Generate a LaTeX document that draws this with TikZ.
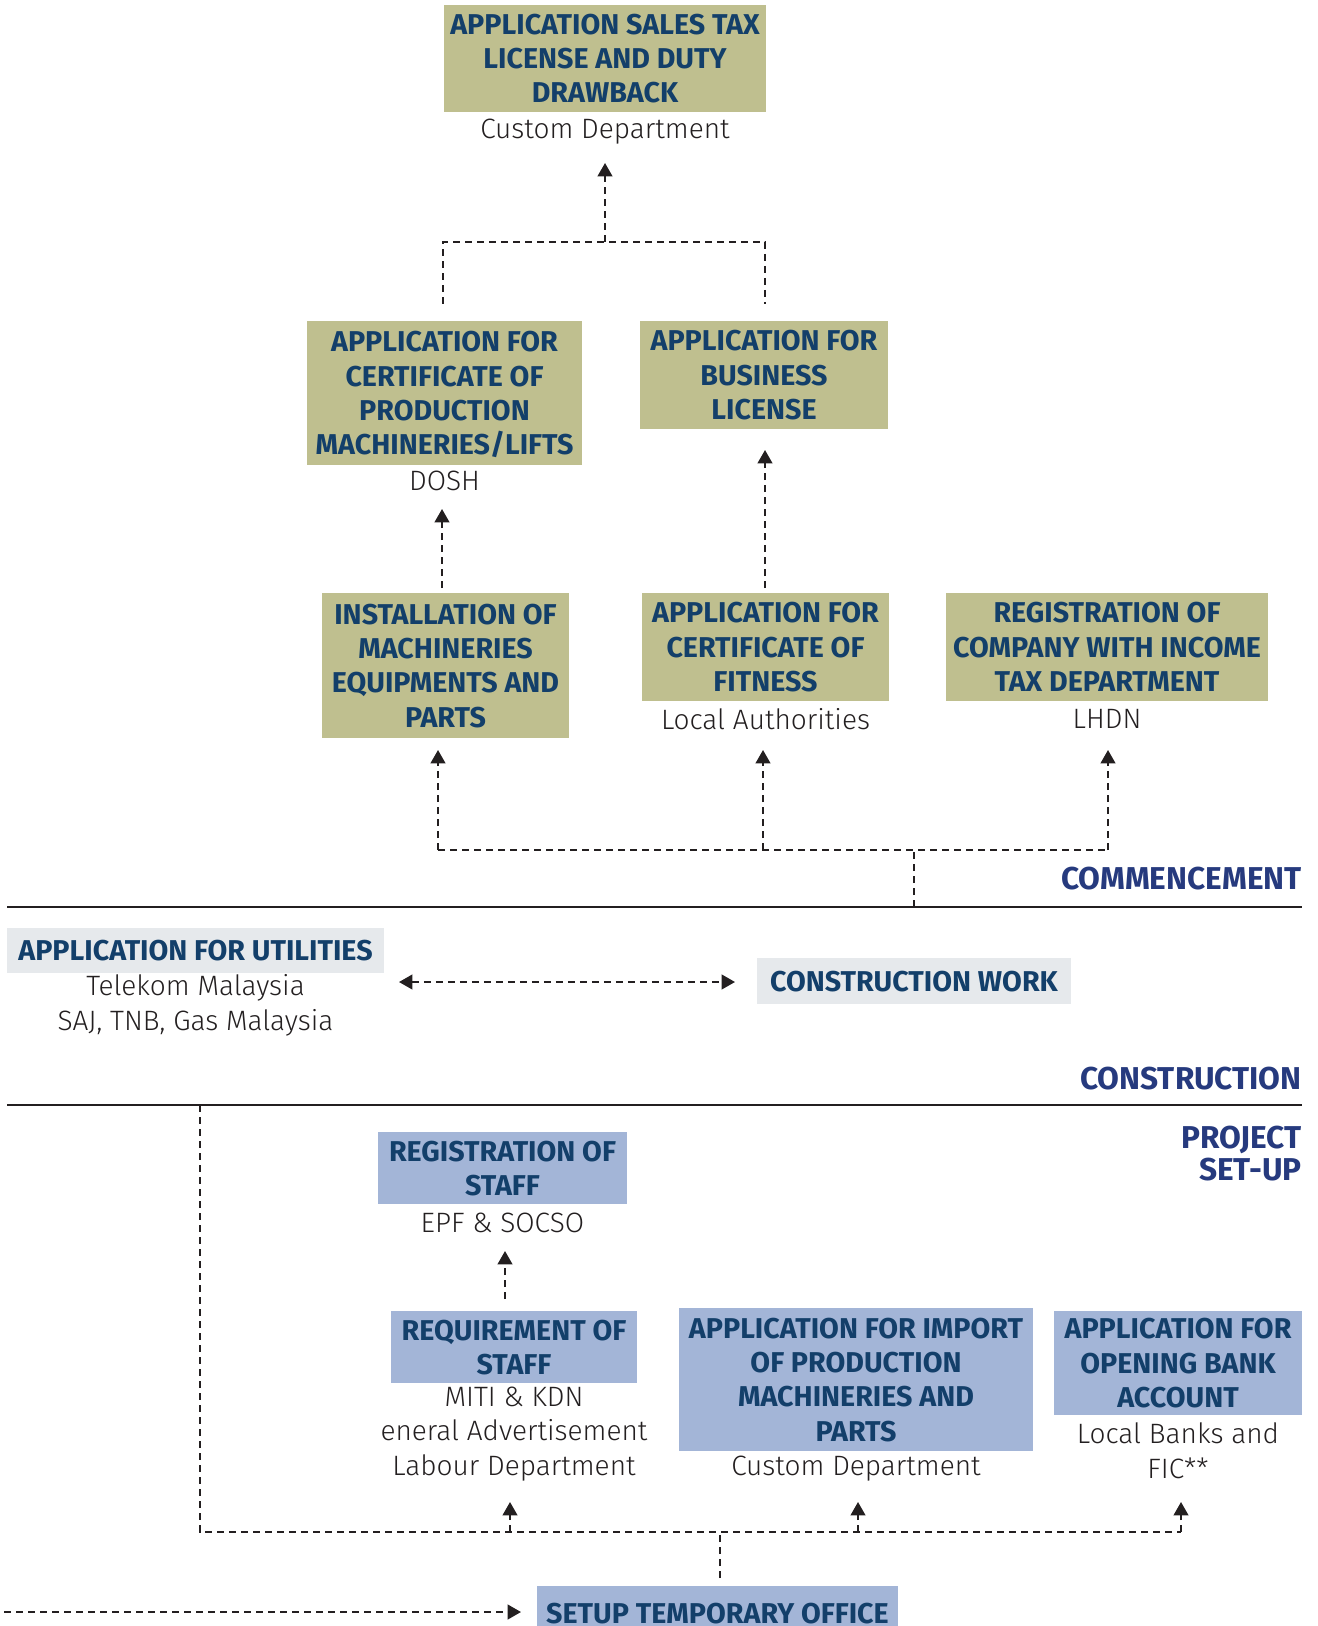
\documentclass[tikz,border=0pt]{standalone}
\usepackage{fontspec}
\setmainfont{Fira Sans}
\newfontfamily\lightfam{Fira Sans Light}
\usetikzlibrary{arrows.meta}
\definecolor{boxolive}{HTML}{BFBF8F}
\definecolor{boxblue}{HTML}{A3B5D7}
\definecolor{boxgrey}{HTML}{E6E9EC}
\definecolor{ttlc}{HTML}{133F6A}
\definecolor{sectc}{HTML}{263A7E}
\definecolor{bodyc}{HTML}{231F20}
\definecolor{linec}{HTML}{231F20}
\newcommand\ttlfont{\fontsize{21.5}{25.7}\selectfont\bfseries}
\newcommand\sectfont{\fontsize{23.7}{24}\selectfont\bfseries}
\newcommand\subfont{\lightfam\fontsize{21}{26}\selectfont}
\tikzset{
  box/.style={inner sep=0pt, align=center, font=\ttlfont, text=ttlc, text depth=-4.5pt},
  ob/.style={box, fill=boxolive},
  bb/.style={box, fill=boxblue},
  gb/.style={box, fill=boxgrey},
  sub/.style={inner sep=0pt, align=center, font=\subfont, text=bodyc},
  sect/.style={inner sep=0pt, anchor=east, align=right, font=\sectfont, text=sectc},
  dl/.style={draw=linec, line width=1.5pt, dash pattern=on 5.5pt off 3.5pt},
  arr/.style={dl, -{Triangle[width=11pt,length=10pt]}},
  darr/.style={dl, {Triangle[width=11pt,length=10pt]}-{Triangle[width=11pt,length=10pt]}},
  secline/.style={draw=linec, line width=2pt},
}
\begin{document}
\begin{tikzpicture}[x=0.75pt,y=-0.75pt]
\useasboundingbox (0,0) rectangle (1317,1626);
% ---------- top ----------
\node[ob, minimum width=241.5pt, minimum height=80.25pt] (t1) at (605,58.5) {APPLICATION SALES TAX\\LICENSE AND DUTY\\DRAWBACK};
\node[sub] (t1s) at (605,132) {Custom Department};
\node[ob, minimum width=206.25pt, minimum height=108pt] (p1) at (444.5,393) {APPLICATION FOR\\CERTIFICATE OF\\PRODUCTION\\MACHINERIES/LIFTS};
\node[sub] (p1s) at (444.5,481) {DOSH};
\node[ob, minimum width=186pt, minimum height=81pt] (p2) at (764,375) {APPLICATION FOR\\BUSINESS\\LICENSE};
% junction above row 2
\coordinate (t1a) at (605,163);
\coordinate (j1) at (605,242);
\coordinate (j1l) at (443,242);
\coordinate (j1r) at (765,242);
\coordinate (p1t) at (443,304);
\coordinate (p2t) at (765,304);
\draw[dl] (p1t) -- (j1l) -- (j1r) -- (p2t);
\draw[arr] (j1) -- (t1a);
% ---------- row 3 ----------
\node[ob, minimum width=185.25pt, minimum height=108.75pt] (r1) at (445.5,665.5) {INSTALLATION OF\\MACHINERIES\\EQUIPMENTS AND\\PARTS};
\node[ob, minimum width=185.25pt, minimum height=81pt] (r2) at (765.5,647) {APPLICATION FOR\\CERTIFICATE OF\\FITNESS};
\node[sub] (r2s) at (765.5,719) {Local Authorities};
\node[ob, minimum width=241.5pt, minimum height=81pt] (r3) at (1107,647) {REGISTRATION OF\\COMPANY WITH INCOME\\TAX DEPARTMENT};
\node[sub] (r3s) at (1107,719) {LHDN};
\coordinate (r1t) at (442,588);
\coordinate (p1a) at (442,509);
\coordinate (r2t) at (765,588);
\coordinate (p2a) at (765,450);
\draw[arr] (r1t) -- (p1a);
\draw[arr] (r2t) -- (p2a);
% commencement fan
\coordinate (c1) at (438,850);
\coordinate (c2) at (763,850);
\coordinate (c3) at (1108,850);
\coordinate (c1a) at (438,750);
\coordinate (c2a) at (763,750);
\coordinate (c3a) at (1108,750);
\coordinate (cj) at (914,850);
\coordinate (cjb) at (914,907);
\draw[dl] (c1) -- (c3);
\draw[arr] (c1) -- (c1a);
\draw[arr] (c2) -- (c2a);
\draw[arr] (c3) -- (c3a);
\draw[dl] (cjb) -- (cj);
% ---------- section lines ----------
\draw[secline] (7,907) -- (1302,907);
\draw[secline] (7,1105) -- (1302,1105);
\node[sect] (lc1) at (1302,879) {COMMENCEMENT};
\node[sect] (lc2) at (1302,1079) {CONSTRUCTION};
\node[sect] (lc3) at (1302,1154) {PROJECT\\SET-UP};
% ---------- construction ----------
\node[gb, minimum width=282.75pt, minimum height=33.75pt] (u) at (195.5,950.5) {APPLICATION FOR UTILITIES};
\node[sub] (us) at (195.5,1005) {Telekom Malaysia\\SAJ, TNB, Gas Malaysia};
\node[gb, minimum width=235.5pt, minimum height=34.5pt] (cw) at (914,981) {CONSTRUCTION WORK};
\coordinate (ua) at (399,982);
\coordinate (cwa) at (735,982);
\draw[darr] (ua) -- (cwa);
% ---------- project set-up ----------
\node[bb, minimum width=186.75pt, minimum height=54pt] (rs) at (502.5,1168) {REGISTRATION OF\\STAFF};
\node[sub] (rss) at (502.5,1223) {EPF \& SOCSO};
\node[bb, minimum width=184.5pt, minimum height=54pt] (q) at (514,1347) {REQUIREMENT OF\\STAFF};
\node[sub] (qs) at (514,1434) {MITI \& KDN\\eneral Advertisement\\Labour Department};
\node[bb, minimum width=265.5pt, minimum height=107.25pt] (im) at (856,1379.5) {APPLICATION FOR IMPORT\\OF PRODUCTION\\MACHINERIES AND\\PARTS};
\node[sub] (ims) at (856,1469) {Custom Department};
\node[bb, minimum width=186pt, minimum height=78pt] (bk) at (1178,1363) {APPLICATION FOR\\OPENING BANK\\ACCOUNT};
\node[sub] (bks) at (1178,1451) {Local Banks and\\FIC**};
\coordinate (qt) at (505,1299);
\coordinate (rsa) at (505,1251);
\draw[arr] (qt) -- (rsa);
\coordinate (s0) at (200,1105);
\coordinate (s1) at (200,1532);
\coordinate (sq) at (510,1532);
\coordinate (sim) at (858,1532);
\coordinate (sbk) at (1181,1532);
\coordinate (sqa) at (510,1502);
\coordinate (sima) at (858,1502);
\coordinate (sbka) at (1181,1502);
\coordinate (sj) at (720,1532);
\coordinate (sjb) at (720,1578);
\draw[dl] (s0) -- (s1) -- (sbk);
\draw[arr] (sq) -- (sqa);
\draw[arr] (sim) -- (sima);
\draw[arr] (sbk) -- (sbka);
\draw[dl] (sjb) -- (sj);
\node[bb, minimum width=270.75pt, minimum height=40.5pt] (so) at (717.5,1613) {SETUP TEMPORARY OFFICE};
\coordinate (lin) at (4,1612);
\coordinate (lina) at (521,1612);
\draw[arr] (lin) -- (lina);
\end{tikzpicture}
\end{document}
